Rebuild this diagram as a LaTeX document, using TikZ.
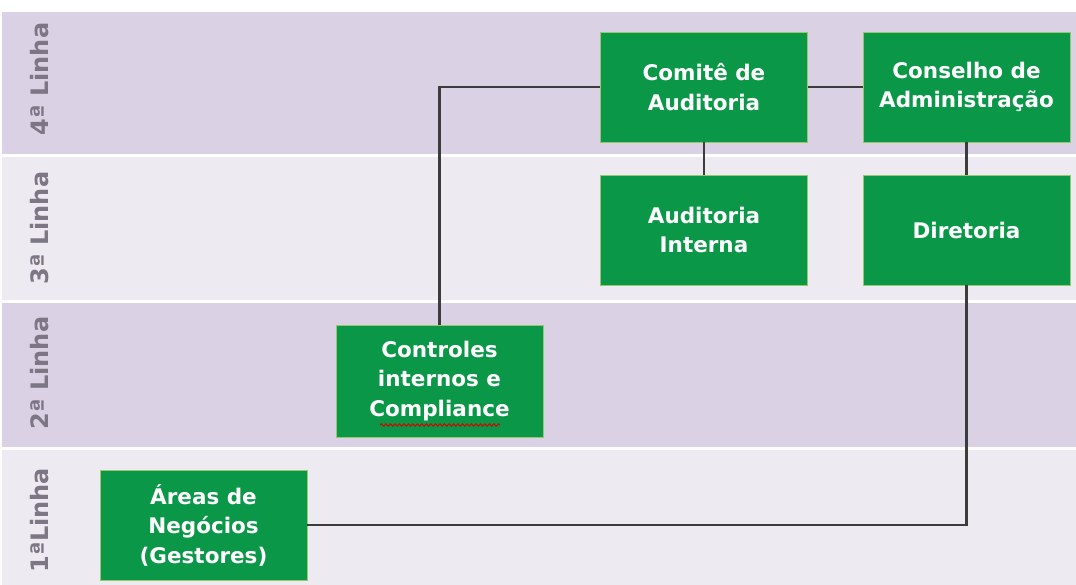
\documentclass[tikz,border=0pt]{standalone}
\usepackage{fontspec}
\setmainfont{DejaVu Sans}
\usetikzlibrary{decorations.pathmorphing}
\definecolor{bandA}{RGB}{218,209,228}
\definecolor{bandB}{RGB}{238,234,242}
\definecolor{boxgreen}{RGB}{10,152,72}
\definecolor{boxedge}{RGB}{150,200,110}
\definecolor{labelgray}{RGB}{125,118,132}
\definecolor{linegray}{RGB}{60,60,60}
\tikzset{
  x=1pt, y=-1pt,
  box/.style={fill=boxgreen, draw=boxedge, line width=0.8pt, minimum width=207pt, minimum height=110pt,
    inner sep=0pt, align=center, text=white, font=\fontsize{21.5}{29.5}\selectfont\bfseries},
  linelabel/.style={rotate=90, text=labelgray, font=\fontsize{24}{28}\selectfont\bfseries},
  conn/.style={draw=linegray, line width=2.8pt},
}
\begin{document}
\begin{tikzpicture}
\useasboundingbox (0,0) rectangle (1076,585);
\fill[white] (0,0) rectangle (1076,585);
% bands
\fill[bandA] (2,12) rectangle (1076,154);
\fill[bandB] (2,157) rectangle (1076,300);
\fill[bandA] (2,303) rectangle (1076,447);
\fill[bandB] (2,450) rectangle (1076,585);
% row labels
\node[linelabel] (l4) at (40,79) {4ª Linha};
\node[linelabel] (l3) at (40,228) {3ª Linha};
\node[linelabel] (l2) at (40,373) {2ª Linha};
\node[linelabel] (l1) at (40,520) {1ªLinha};
% boxes
\node[box] (comite) at (704,87) {Comitê de\\Auditoria};
\node[box] (conselho) at (966.5,87) {Conselho de\\Administração};
\node[box] (audint) at (704,230) {Auditoria\\Interna};
\node[box] (diretoria) at (966.5,230) {Diretoria};
\node[box, minimum height=112pt] (controles) at (439.5,381) {Controles\\internos e\\Compliance};
\node[box] (areas) at (203.5,525) {Áreas de\\Negócios\\(Gestores)};
% wavy spell-check underline
\coordinate (wavyA) at (380,425);
\coordinate (wavyB) at (500,425);
\draw[red!85!black, line width=1pt, decorate, decoration={snake, amplitude=1.2pt, segment length=4.5pt}] (wavyA) -- (wavyB);
% connectors
\draw[conn] (comite.west) -- (comite.west -| controles.north) -- (controles.north);
\draw[conn] (comite.east) -- (conselho.west);
\draw[conn] (comite.south) -- (audint.north);
\draw[conn] (conselho.south) -- (diretoria.north);
\draw[conn] (diretoria.south) -- (diretoria.south |- areas.east) -- (areas.east);
\end{tikzpicture}
\end{document}
